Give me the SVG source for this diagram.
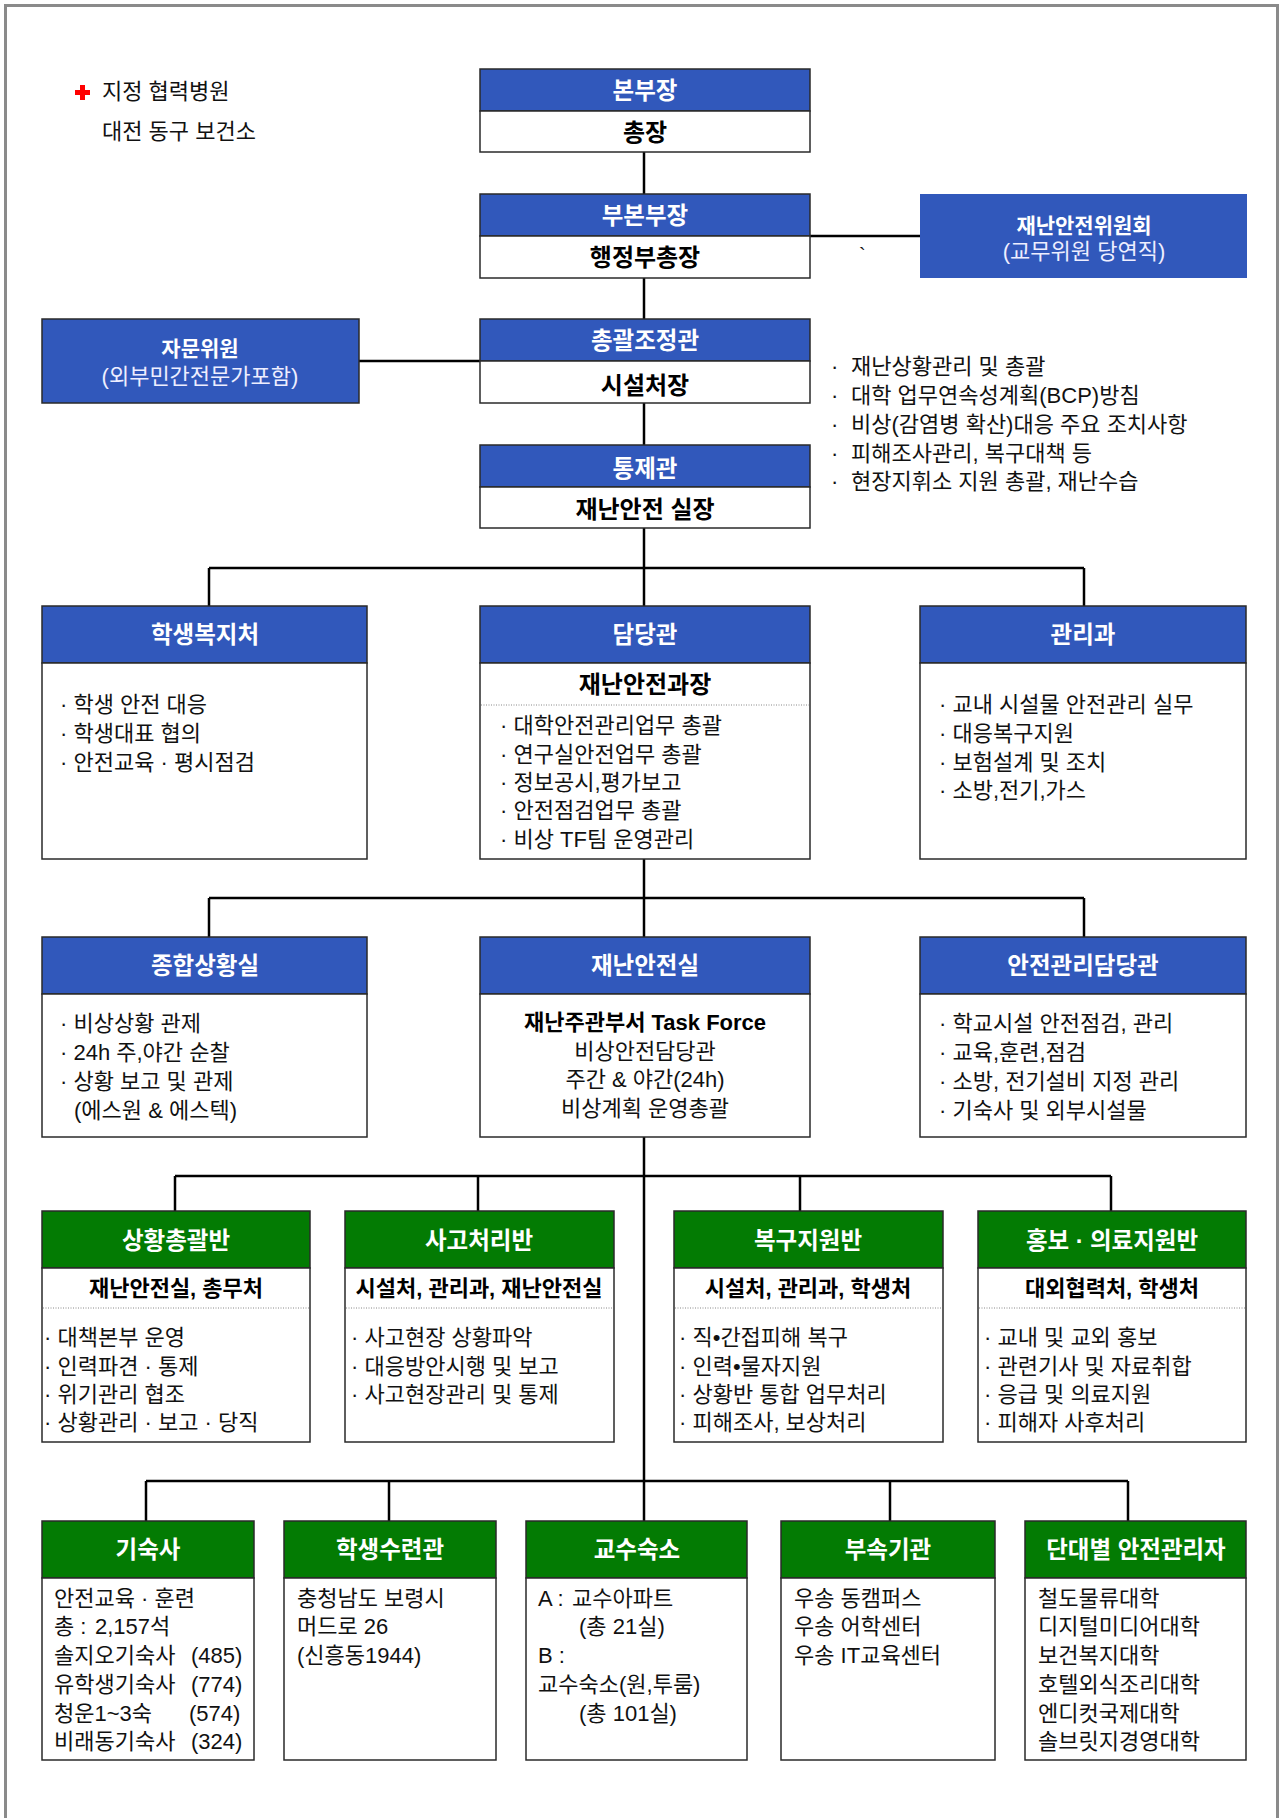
<svg xmlns="http://www.w3.org/2000/svg" width="1283" height="1818" viewBox="0 0 1283 1818">
<style>
text { font-family: 'Liberation Sans', 'Noto Sans CJK KR', sans-serif; }
.hb { fill:#3158BB; stroke:#2a2a2a; stroke-width:1.5 }
.hbn { fill:#3158BB }
.hg { fill:#037B03; stroke:#2a2a2a; stroke-width:1.5 }
.bd { fill:#fff; stroke:#2a2a2a; stroke-width:1.5 }
.ht { fill:#fff; font-size:23.5px; font-weight:bold; text-anchor:middle }
.wt { fill:#fff; font-size:21px; font-weight:bold; text-anchor:middle }
.wl { fill:#eef; font-size:22px; text-anchor:middle }
.st { fill:#000; font-size:24px; font-weight:bold; text-anchor:middle }
.sg { fill:#000; font-size:22px; font-weight:bold; text-anchor:middle }
.tx { fill:#111; font-size:22px }
.tc { fill:#111; font-size:22px; text-anchor:middle }
.tb { fill:#000; font-size:22px; font-weight:bold; text-anchor:middle }
.dot { stroke:#888; stroke-width:1; stroke-dasharray:1 1.5 }
.con { stroke:#000; stroke-width:2.5; fill:none }
</style>
<rect x="0" y="0" width="1283" height="1818" fill="#fff"/>
<rect x="5.5" y="5.5" width="1272" height="1840" fill="none" stroke="#8a8a8a" stroke-width="3"/>

<g id="legend">
  <path d="M80 85 h5 v5 h5 v5 h-5 v5 h-5 v-5 h-5 v-5 h5 z" fill="#f00"/>
  <text class="tx" x="102" y="99">지정 협력병원</text>
  <text class="tx" x="102" y="139">대전 동구 보건소</text>
</g>

<g id="connectors" class="con">
  <line x1="644" y1="152" x2="644" y2="194"/>
  <line x1="644" y1="278" x2="644" y2="319"/>
  <line x1="644" y1="403" x2="644" y2="445"/>
  <line x1="810" y1="236" x2="920" y2="236"/>
  <line x1="359" y1="361" x2="480" y2="361"/>
  <line x1="644" y1="528" x2="644" y2="606"/>
  <line x1="209" y1="568" x2="1084" y2="568"/>
  <line x1="209" y1="568" x2="209" y2="606"/>
  <line x1="1084" y1="568" x2="1084" y2="606"/>
  <line x1="644" y1="859" x2="644" y2="937"/>
  <line x1="209" y1="898" x2="1084" y2="898"/>
  <line x1="209" y1="898" x2="209" y2="937"/>
  <line x1="1084" y1="898" x2="1084" y2="937"/>
  <line x1="644" y1="1137" x2="644" y2="1521"/>
  <line x1="175" y1="1176" x2="1111" y2="1176"/>
  <line x1="175" y1="1176" x2="175" y2="1211"/>
  <line x1="478" y1="1176" x2="478" y2="1211"/>
  <line x1="800" y1="1176" x2="800" y2="1211"/>
  <line x1="1111" y1="1176" x2="1111" y2="1211"/>
  <line x1="146" y1="1481" x2="1128" y2="1481"/>
  <line x1="146" y1="1481" x2="146" y2="1521"/>
  <line x1="389" y1="1481" x2="389" y2="1521"/>
  <line x1="890" y1="1481" x2="890" y2="1521"/>
  <line x1="1128" y1="1481" x2="1128" y2="1521"/>
</g>
<text class="tx" style="font-size:20px" x="859" y="262">`</text>

<g id="n-bonbujang">
  <rect class="hb" x="480" y="69" width="330" height="42"/>
  <rect class="bd" x="480" y="111" width="330" height="41"/>
  <text class="ht" x="645" y="99">본부장</text>
  <text class="st" x="645" y="141">총장</text>
</g>
<g id="n-bubonbujang">
  <rect class="hb" x="480" y="194" width="330" height="42"/>
  <rect class="bd" x="480" y="236" width="330" height="42"/>
  <text class="ht" x="645" y="224">부본부장</text>
  <text class="st" x="645" y="266">행정부총장</text>
</g>
<g id="n-committee">
  <rect class="hbn" x="920" y="194" width="327" height="84"/>
  <text class="wt" x="1084" y="233">재난안전위원회</text>
  <text class="wl" x="1084" y="259">(교무위원 당연직)</text>
</g>
<g id="n-chonggwal">
  <rect class="hb" x="480" y="319" width="330" height="42"/>
  <rect class="bd" x="480" y="361" width="330" height="42"/>
  <text class="ht" x="645" y="349">총괄조정관</text>
  <text class="st" x="645" y="394">시설처장</text>
</g>
<g id="n-advisor">
  <rect class="hb" x="42" y="319" width="317" height="84"/>
  <text class="wt" x="200" y="356">자문위원</text>
  <text class="wl" x="200" y="384">(외부민간전문가포함)</text>
</g>
<g id="notes">
  <text class="tx"><tspan x="831" y="374">·</tspan><tspan x="851" y="374">재난상황관리 및 총괄</tspan></text>
  <text class="tx"><tspan x="831" y="403">·</tspan><tspan x="851" y="403">대학 업무연속성계획(BCP)방침</tspan></text>
  <text class="tx"><tspan x="831" y="432">·</tspan><tspan x="851" y="432">비상(감염병 확산)대응 주요 조치사항</tspan></text>
  <text class="tx"><tspan x="831" y="461">·</tspan><tspan x="851" y="461">피해조사관리, 복구대책 등</tspan></text>
  <text class="tx"><tspan x="831" y="489">·</tspan><tspan x="851" y="489">현장지휘소 지원 총괄, 재난수습</tspan></text>
</g>
<g id="n-tongje">
  <rect class="hb" x="480" y="445" width="330" height="42"/>
  <rect class="bd" x="480" y="487" width="330" height="41"/>
  <text class="ht" x="645" y="477">통제관</text>
  <text class="st" x="645" y="518">재난안전 실장</text>
</g>

<g id="n-student-welfare">
  <rect class="hb" x="42" y="606" width="325" height="57"/>
  <rect class="bd" x="42" y="663" width="325" height="196"/>
  <text class="ht" x="205" y="643">학생복지처</text>
  <text class="tx"><tspan x="60" y="712">· 학생 안전 대응</tspan><tspan x="60" y="741">· 학생대표 협의</tspan><tspan x="60" y="770">· 안전교육 · 평시점검</tspan></text>
</g>
<g id="n-damdang">
  <rect class="hb" x="480" y="606" width="330" height="57"/>
  <rect class="bd" x="480" y="663" width="330" height="196"/>
  <text class="ht" x="645" y="643">담당관</text>
  <text class="st" x="645" y="693">재난안전과장</text>
  <line class="dot" x1="481" y1="705" x2="809" y2="705"/>
  <text class="tx"><tspan x="500" y="733">· 대학안전관리업무 총괄</tspan><tspan x="500" y="762">· 연구실안전업무 총괄</tspan><tspan x="500" y="790">· 정보공시,평가보고</tspan><tspan x="500" y="818">· 안전점검업무 총괄</tspan><tspan x="500" y="847">· 비상 TF팀 운영관리</tspan></text>
</g>
<g id="n-gwanri">
  <rect class="hb" x="920" y="606" width="326" height="57"/>
  <rect class="bd" x="920" y="663" width="326" height="196"/>
  <text class="ht" x="1083" y="643">관리과</text>
  <text class="tx"><tspan x="939" y="712">· 교내 시설물 안전관리 실무</tspan><tspan x="939" y="741">· 대응복구지원</tspan><tspan x="939" y="770">· 보험설계 및 조치</tspan><tspan x="939" y="798">· 소방,전기,가스</tspan></text>
</g>

<g id="n-situation-room">
  <rect class="hb" x="42" y="937" width="325" height="57"/>
  <rect class="bd" x="42" y="994" width="325" height="143"/>
  <text class="ht" x="205" y="974">종합상황실</text>
  <text class="tx"><tspan x="60" y="1031">· 비상상황 관제</tspan><tspan x="60" y="1060">· 24h 주,야간 순찰</tspan><tspan x="60" y="1089">· 상황 보고 및 관제</tspan><tspan x="74" y="1118">(에스원 &amp; 에스텍)</tspan></text>
</g>
<g id="n-safety-office">
  <rect class="hb" x="480" y="937" width="330" height="57"/>
  <rect class="bd" x="480" y="994" width="330" height="143"/>
  <text class="ht" x="645" y="974">재난안전실</text>
  <text class="tb" x="645" y="1030">재난주관부서 Task Force</text>
  <text class="tc"><tspan x="645" y="1059">비상안전담당관</tspan><tspan x="645" y="1087">주간 &amp; 야간(24h)</tspan><tspan x="645" y="1116">비상계획 운영총괄</tspan></text>
</g>
<g id="n-safety-manager">
  <rect class="hb" x="920" y="937" width="326" height="57"/>
  <rect class="bd" x="920" y="994" width="326" height="143"/>
  <text class="ht" x="1083" y="974">안전관리담당관</text>
  <text class="tx"><tspan x="939" y="1031">· 학교시설 안전점검, 관리</tspan><tspan x="939" y="1060">· 교육,훈련,점검</tspan><tspan x="939" y="1089">· 소방, 전기설비 지정 관리</tspan><tspan x="939" y="1118">· 기숙사 및 외부시설물</tspan></text>
</g>

<g id="n-team1">
  <rect class="hg" x="42" y="1211" width="268" height="57"/>
  <rect class="bd" x="42" y="1268" width="268" height="174"/>
  <text class="ht" x="176" y="1249">상황총괄반</text>
  <text class="sg" x="176" y="1296">재난안전실, 총무처</text>
  <line class="dot" x1="43" y1="1308" x2="309" y2="1308"/>
  <text class="tx"><tspan x="44" y="1345">· 대책본부 운영</tspan><tspan x="44" y="1374">· 인력파견 · 통제</tspan><tspan x="44" y="1402">· 위기관리 협조</tspan><tspan x="44" y="1430">· 상황관리 · 보고 · 당직</tspan></text>
</g>
<g id="n-team2">
  <rect class="hg" x="345" y="1211" width="269" height="57"/>
  <rect class="bd" x="345" y="1268" width="269" height="174"/>
  <text class="ht" x="479" y="1249">사고처리반</text>
  <text class="sg" x="479" y="1296">시설처, 관리과, 재난안전실</text>
  <line class="dot" x1="346" y1="1308" x2="613" y2="1308"/>
  <text class="tx"><tspan x="351" y="1345">· 사고현장 상황파악</tspan><tspan x="351" y="1374">· 대응방안시행 및 보고</tspan><tspan x="351" y="1402">· 사고현장관리 및 통제</tspan></text>
</g>
<g id="n-team3">
  <rect class="hg" x="674" y="1211" width="269" height="57"/>
  <rect class="bd" x="674" y="1268" width="269" height="174"/>
  <text class="ht" x="808" y="1249">복구지원반</text>
  <text class="sg" x="808" y="1296">시설처, 관리과, 학생처</text>
  <line class="dot" x1="675" y1="1308" x2="942" y2="1308"/>
  <text class="tx"><tspan x="679" y="1345">· 직•간접피해 복구</tspan><tspan x="679" y="1374">· 인력•물자지원</tspan><tspan x="679" y="1402">· 상황반 통합 업무처리</tspan><tspan x="679" y="1430">· 피해조사, 보상처리</tspan></text>
</g>
<g id="n-team4">
  <rect class="hg" x="978" y="1211" width="268" height="57"/>
  <rect class="bd" x="978" y="1268" width="268" height="174"/>
  <text class="ht" x="1112" y="1249">홍보 · 의료지원반</text>
  <text class="sg" x="1112" y="1296">대외협력처, 학생처</text>
  <line class="dot" x1="979" y1="1308" x2="1245" y2="1308"/>
  <text class="tx"><tspan x="984" y="1345">· 교내 및 교외 홍보</tspan><tspan x="984" y="1374">· 관련기사 및 자료취합</tspan><tspan x="984" y="1402">· 응급 및 의료지원</tspan><tspan x="984" y="1430">· 피해자 사후처리</tspan></text>
</g>

<g id="n-dorm">
  <rect class="hg" x="42" y="1521" width="212" height="57"/>
  <rect class="bd" x="42" y="1578" width="212" height="182"/>
  <text class="ht" x="148" y="1558">기숙사</text>
  <text class="tx"><tspan x="54" y="1606">안전교육 · 훈련</tspan><tspan x="54" y="1634">총 :</tspan><tspan x="95" y="1634">2,157석</tspan><tspan x="54" y="1663">솔지오기숙사</tspan><tspan x="191" y="1663">(485)</tspan><tspan x="54" y="1692">유학생기숙사</tspan><tspan x="191" y="1692">(774)</tspan><tspan x="54" y="1721">청운1~3숙</tspan><tspan x="189" y="1721">(574)</tspan><tspan x="54" y="1749">비래동기숙사</tspan><tspan x="191" y="1749">(324)</tspan></text>
</g>
<g id="n-training">
  <rect class="hg" x="284" y="1521" width="212" height="57"/>
  <rect class="bd" x="284" y="1578" width="212" height="182"/>
  <text class="ht" x="390" y="1558">학생수련관</text>
  <text class="tx"><tspan x="297" y="1606">충청남도 보령시</tspan><tspan x="297" y="1634">머드로 26</tspan><tspan x="297" y="1663">(신흥동1944)</tspan></text>
</g>
<g id="n-faculty">
  <rect class="hg" x="526" y="1521" width="221" height="57"/>
  <rect class="bd" x="526" y="1578" width="221" height="182"/>
  <text class="ht" x="637" y="1558">교수숙소</text>
  <text class="tx"><tspan x="538" y="1606">A :</tspan><tspan x="572" y="1606">교수아파트</tspan><tspan x="579" y="1634">(총 21실)</tspan><tspan x="538" y="1663">B :</tspan><tspan x="538" y="1692">교수숙소(원,투룸)</tspan><tspan x="579" y="1721">(총 101실)</tspan></text>
</g>
<g id="n-affiliated">
  <rect class="hg" x="781" y="1521" width="214" height="57"/>
  <rect class="bd" x="781" y="1578" width="214" height="182"/>
  <text class="ht" x="888" y="1558">부속기관</text>
  <text class="tx"><tspan x="794" y="1606">우송 동캠퍼스</tspan><tspan x="794" y="1634">우송 어학센터</tspan><tspan x="794" y="1663">우송 IT교육센터</tspan></text>
</g>
<g id="n-college">
  <rect class="hg" x="1025" y="1521" width="221" height="57"/>
  <rect class="bd" x="1025" y="1578" width="221" height="182"/>
  <text class="ht" x="1136" y="1558">단대별 안전관리자</text>
  <text class="tx"><tspan x="1038" y="1606">철도물류대학</tspan><tspan x="1038" y="1634">디지털미디어대학</tspan><tspan x="1038" y="1663">보건복지대학</tspan><tspan x="1038" y="1692">호텔외식조리대학</tspan><tspan x="1038" y="1721">엔디컷국제대학</tspan><tspan x="1038" y="1749">솔브릿지경영대학</tspan></text>
</g>
</svg>
